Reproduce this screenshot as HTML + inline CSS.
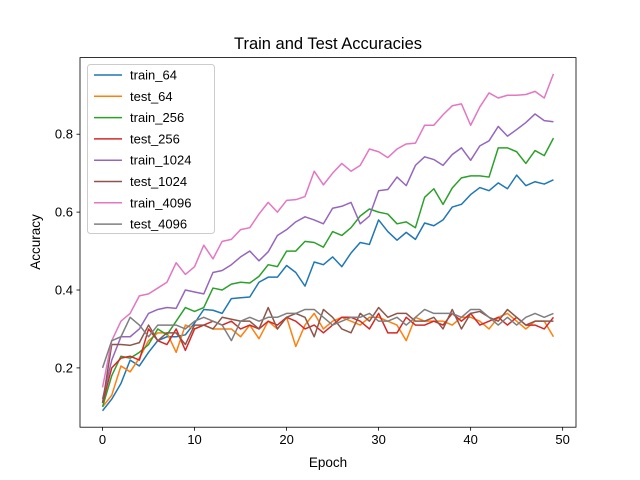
<!DOCTYPE html>
<html><head><meta charset="utf-8"><style>
body{margin:0;background:#fff}
svg{display:block;font-family:"Liberation Sans","DejaVu Sans",sans-serif}
</style></head><body>
<svg id="chart" width="640" height="480">
<rect width="640" height="480" fill="#fff"/>
<text x="328" y="49" text-anchor="middle" font-size="16.5">Train and Test Accuracies</text>
<text x="328" y="467" text-anchor="middle" font-size="13.5">Epoch</text>
<text transform="translate(40,242) rotate(-90)" text-anchor="middle" font-size="13.5">Accuracy</text>
<g id="plot"></g>
</svg>
<script>
const epochs = Array.from({length:50},(_,i)=>i);
const seriesNames = ["train_64","test_64","train_256","test_256","train_1024","test_1024","train_4096","test_4096"];
const train64 = [0.09,0.12,0.16,0.22,0.205,0.24,0.27,0.28,0.28,0.285,0.315,0.35,0.348,0.34,0.378,0.38,0.382,0.42,0.433,0.433,0.463,0.445,0.41,0.472,0.465,0.485,0.46,0.495,0.522,0.517,0.58,0.55,0.528,0.548,0.53,0.572,0.565,0.58,0.613,0.62,0.645,0.663,0.655,0.675,0.66,0.695,0.668,0.678,0.672,0.683];
const test64 = [0.1,0.13,0.205,0.19,0.225,0.27,0.29,0.29,0.24,0.31,0.3,0.31,0.3,0.3,0.3,0.28,0.31,0.275,0.32,0.3,0.33,0.255,0.31,0.34,0.3,0.32,0.33,0.32,0.31,0.33,0.33,0.32,0.31,0.27,0.33,0.32,0.32,0.32,0.31,0.33,0.33,0.32,0.3,0.33,0.34,0.32,0.3,0.32,0.32,0.28];
const train256 = [0.1,0.18,0.23,0.225,0.24,0.26,0.3,0.285,0.32,0.355,0.345,0.355,0.405,0.4,0.415,0.42,0.418,0.435,0.465,0.46,0.5,0.5,0.525,0.522,0.51,0.55,0.54,0.56,0.59,0.608,0.6,0.595,0.57,0.575,0.56,0.638,0.66,0.62,0.662,0.688,0.693,0.693,0.69,0.765,0.765,0.755,0.725,0.758,0.745,0.79];
const test256 = [0.11,0.2,0.225,0.23,0.22,0.3,0.27,0.26,0.3,0.245,0.3,0.31,0.32,0.31,0.32,0.3,0.31,0.3,0.32,0.31,0.33,0.32,0.3,0.31,0.29,0.31,0.33,0.33,0.32,0.3,0.34,0.29,0.29,0.33,0.31,0.31,0.32,0.31,0.34,0.32,0.34,0.31,0.32,0.33,0.31,0.33,0.31,0.31,0.3,0.33];
const train1024 = [0.12,0.22,0.28,0.28,0.3,0.34,0.35,0.355,0.353,0.4,0.395,0.39,0.445,0.45,0.465,0.485,0.5,0.475,0.498,0.54,0.555,0.575,0.588,0.58,0.57,0.61,0.615,0.625,0.57,0.59,0.655,0.658,0.69,0.668,0.72,0.742,0.735,0.72,0.748,0.765,0.733,0.77,0.783,0.82,0.795,0.812,0.83,0.852,0.835,0.832];
const test1024 = [0.11,0.26,0.26,0.258,0.265,0.31,0.27,0.29,0.29,0.26,0.31,0.31,0.3,0.33,0.325,0.32,0.32,0.3,0.355,0.3,0.33,0.34,0.33,0.28,0.35,0.33,0.3,0.29,0.34,0.32,0.355,0.33,0.34,0.34,0.32,0.32,0.33,0.3,0.35,0.3,0.34,0.345,0.33,0.32,0.35,0.33,0.31,0.32,0.32,0.32];
const train4096 = [0.15,0.27,0.32,0.34,0.385,0.39,0.405,0.42,0.47,0.44,0.46,0.515,0.48,0.525,0.53,0.555,0.56,0.595,0.625,0.6,0.63,0.632,0.64,0.705,0.67,0.7,0.725,0.705,0.72,0.762,0.755,0.74,0.762,0.775,0.777,0.823,0.823,0.85,0.873,0.878,0.823,0.87,0.906,0.893,0.9,0.9,0.902,0.91,0.893,0.955];
const test4096 = [0.2,0.27,0.28,0.33,0.31,0.28,0.31,0.31,0.31,0.3,0.32,0.33,0.32,0.31,0.27,0.32,0.33,0.32,0.33,0.33,0.34,0.34,0.35,0.35,0.33,0.31,0.32,0.33,0.33,0.34,0.32,0.32,0.33,0.31,0.33,0.35,0.34,0.34,0.34,0.33,0.35,0.35,0.33,0.31,0.33,0.31,0.33,0.34,0.33,0.34];
const xTicks = [0,10,20,30,40,50];
const yTicks = [0.2,0.4,0.6,0.8];

const NS="http://www.w3.org/2000/svg";
const L=80,R=576,T=57.6,B=427.2;
const xMin=-2.45,xMax=51.45,yMin=0.04778,yMax=0.99672;
const xs=v=>L+(v-xMin)/(xMax-xMin)*(R-L);
const ys=v=>B-(v-yMin)/(yMax-yMin)*(B-T);
const plot=document.getElementById('plot');
function mk(tag,attrs,parent){const e=document.createElementNS(NS,tag);for(const k in attrs)e.setAttribute(k,attrs[k]);(parent||plot).appendChild(e);return e;}
const colors=["#1f77b4","#ff7f0e","#2ca02c","#d62728","#9467bd","#8c564b","#e377c2","#7f7f7f"];
const data=[train64,test64,train256,test256,train1024,test1024,train4096,test4096];
data.forEach((s,i)=>{
  const p=mk('polyline',{points:s.map((v,j)=>xs(epochs[j]).toFixed(2)+','+ys(v).toFixed(2)).join(' '),fill:'none',stroke:colors[i],'stroke-width':1.5,'stroke-linejoin':'round'});
  
  
});
const frame=mk('rect',{x:L,y:T,width:R-L,height:B-T,fill:'none',stroke:'#000','stroke-width':0.8});


xTicks.forEach(t=>{
  const x=xs(t);
  const tk=mk('line',{x1:x,x2:x,y1:B,y2:B+3.5,stroke:'#000','stroke-width':0.8});
  
  
  const tx=mk('text',{x:x,y:B+17,'text-anchor':'middle','font-size':13});
  tx.textContent=t;
  
  
});
yTicks.forEach(t=>{
  const y=ys(t);
  const tk=mk('line',{x1:L-3.5,x2:L,y1:y,y2:y,stroke:'#000','stroke-width':0.8});
  
  
  const tx=mk('text',{x:L-7,y:y+4.5,'text-anchor':'end','font-size':13});
  tx.textContent=t.toFixed(1);
  
  
});
const lg=mk('g',{});


mk('rect',{x:87.5,y:64.5,width:127,height:169,rx:3,fill:'#fff','fill-opacity':0.8,stroke:'#ccc','stroke-width':1},lg);
seriesNames.forEach((n,i)=>{
  const y=75+i*21.3;
  const g=mk('g',{},lg);
  
  
  mk('line',{x1:94,x2:122,y1:y,y2:y,stroke:colors[i],'stroke-width':1.5},g);
  const t=mk('text',{x:130,y:y+4.5,'font-size':13},g);
  t.textContent=n;
});
</script>
</body></html>
